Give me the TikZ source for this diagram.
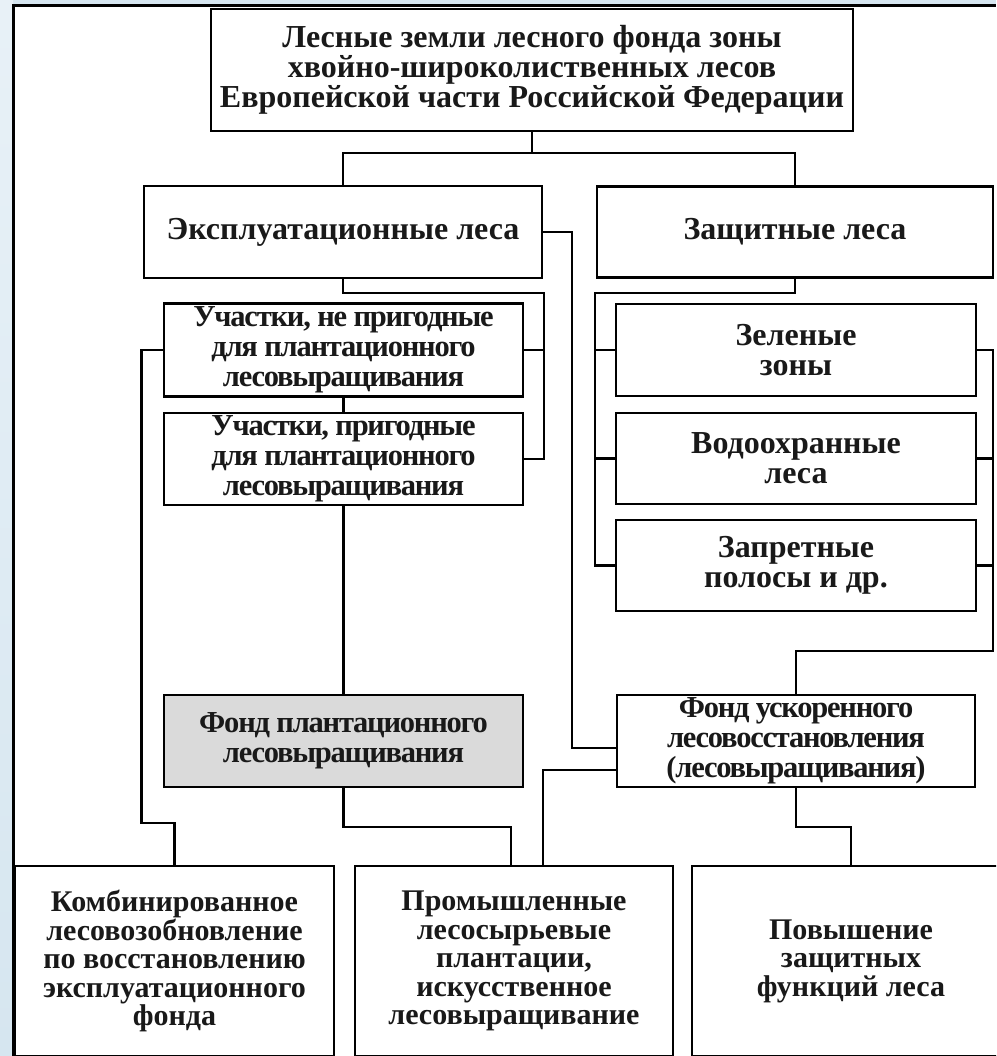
\documentclass[tikz,border=0pt]{standalone}
\usepackage{fontspec}
\setmainfont{Liberation Serif}
\newfontfamily\tightserif[LetterSpace=-4]{Liberation Serif}
\usetikzlibrary{calc}
\definecolor{slideblue}{RGB}{214,230,240}
\definecolor{slidelight}{RGB}{232,241,247}
\definecolor{fondgray}{RGB}{218,218,218}
\definecolor{ink}{RGB}{25,25,25}

\begin{document}
\begin{tikzpicture}[x=1pt, y=-1pt,
                    box/.style={draw, line width=2.6pt, fill=white, align=center, text=ink,
                                inner sep=0pt, font=\bfseries\fontsize{32}{30}\selectfont},
                    tight box/.style={box, font=\tightserif\bfseries\fontsize{30.5}{30}\selectfont},
                    low box/.style={box, font=\bfseries\fontsize{30}{28.5}\selectfont},
                    link/.style={draw, line width=2.2pt}]

  \useasboundingbox (0,0) rectangle (996,1056);
  \clip (0,0) rectangle (996,1056);
  \fill[slideblue] (0,0) rectangle (996,1056);
  \shade[top color=slidelight, bottom color=slideblue] (0,0) rectangle (13,1056);
  \fill[white] (13,6) rectangle (996,1056);
  \draw[line width=3pt] (13,1056) -- (13,6) -- (996,6);

  \node[box, minimum width=642, minimum height=122] (lfz) at (532, 70)
    {Лесные земли лесного фонда зоны\\хвойно-широколиственных лесов\\Европейской части Российской Федерации};
  \node[box, minimum width=398, minimum height=92] (expl) at (343, 232) {Эксплуатационные леса};
  \node[box, minimum width=396, minimum height=91] (zasch) at (795, 232) {Защитные леса};
  \node[tight box, minimum width=359, minimum height=93] (nepr) at (343.5, 350)
    {Участки, не пригодные\\для плантационного\\лесовыращивания};
  \node[tight box, minimum width=359, minimum height=92] (prig) at (343.5, 459)
    {Участки, пригодные\\для плантационного\\лесовыращивания};
  \node[box, minimum width=360, minimum height=92] (zel) at (796, 350) {Зеленые\\зоны};
  \node[box, minimum width=360, minimum height=91] (vodo) at (796, 458.5) {Водоохранные\\леса};
  \node[box, minimum width=360, minimum height=91] (zapr) at (796, 565.5) {Запретные\\полосы и др.};
  \node[tight box, fill=fondgray, minimum width=359, minimum height=92] (fplant) at (343.5, 741)
    {Фонд плантационного\\лесовыращивания};
  \node[tight box, minimum width=358, minimum height=92] (fusk) at (796, 741)
    {Фонд ускоренного\\лесовосстановления\\(лесовыращивания)};
  \node[low box, minimum width=319, minimum height=190] (komb) at (174.5, 961)
    {Комбинированное\\лесовозобновление\\по восстановлению\\эксплуатационного\\фонда};
  \node[low box, minimum width=318, minimum height=190] (prom) at (514, 961)
    {Промышленные\\лесосырьевые\\плантации,\\искусственное\\лесовыращивание};
  \node[low box, minimum width=318, minimum height=190] (povy) at (851, 961)
    {Повышение\\защитных\\функций леса};

  \coordinate (top fork) at (532, 153);
  \path[link]
  (lfz.south) -- (top fork)
  (expl.north) -- (expl.north |- top fork) -| (zasch.north)
  (expl.east) -| ($(fusk.west)+(-44,7)$) -- ($(fusk.west)+(0,7)$)
  (expl.south) -- ++(0,14) -| ($(prig.east)+(20,0)$) -- (prig.east)
  (nepr.east) -- ++(20,0)
  (nepr.south) -- (prig.north)
  (nepr.west) -| ($(komb.north)+(-33,-42)$) -| (komb.north)
  (prig.south) -- (fplant.north)
  (fplant.south) -- ++(0,39) -| ($(prom.north)+(-3,0)$)
  ($(fusk.west)+(0,29)$) -| ($(prom.north)+(29,0)$)
  (zasch.south) -- ++(0,14) -| ($(zapr.west)+(-20,0)$) -- (zapr.west)
  (zel.west) -- ++(-20,0)
  (vodo.west) -- ++(-20,0)
  (zel.east) -- ++(16,0) |- ($(fusk.north)+(0,-43)$) -- (fusk.north)
  (vodo.east) -- ++(16,0)
  (zapr.east) -- ++(16,0)
  (fusk.south) -- ++(0,39) -| (povy.north);

\end{tikzpicture}
\end{document}
